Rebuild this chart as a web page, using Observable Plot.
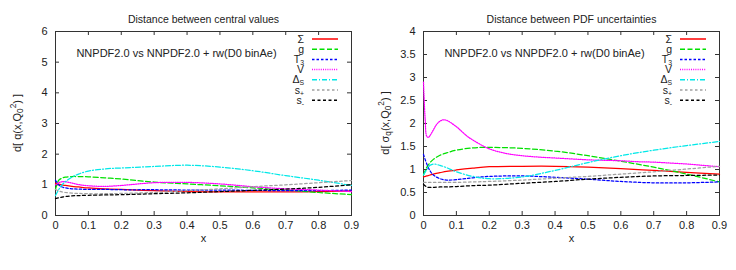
<!DOCTYPE html>
<html>
<head>
<meta charset="utf-8">
<script src="https://cdn.jsdelivr.net/npm/d3@7"></script>
<script src="https://cdn.jsdelivr.net/npm/@observablehq/plot@0.6"></script>
<style>
  html, body { margin: 0; padding: 0; background: #fff; }
  #row { display: flex; width: 736px; height: 270px; }
  #row > svg { display: block; }
</style>
</head>
<body>
<div id="row"></div>
<script>
// ---------------- data ----------------
const xGrid = [0, 0.01, 0.02, 0.03, 0.05, 0.07, 0.1, 0.15, 0.2, 0.3, 0.4, 0.5, 0.6, 0.7, 0.8, 0.9];

// Left panel: distance between central values
const centralSigma = [1.05, 1.02, 1.0, 0.98, 0.95, 0.93, 0.9, 0.87, 0.85, 0.81, 0.78, 0.77, 0.77, 0.77, 0.78, 0.8];
const centralG     = [0.85, 1.15, 1.22, 1.25, 1.27, 1.27, 1.26, 1.23, 1.19, 1.09, 1.03, 0.97, 0.9, 0.83, 0.75, 0.68];
const centralT3    = [1.15, 1.0, 0.93, 0.9, 0.87, 0.86, 0.85, 0.85, 0.84, 0.84, 0.83, 0.83, 0.82, 0.81, 0.81, 0.83];
const centralV     = [1.0, 1.07, 1.1, 1.1, 1.06, 1.01, 0.97, 0.95, 0.98, 1.07, 1.08, 1.03, 0.94, 0.87, 0.83, 0.78];
const centralDs    = [0.65, 0.85, 1.0, 1.1, 1.25, 1.35, 1.45, 1.52, 1.55, 1.6, 1.64, 1.58, 1.46, 1.3, 1.15, 0.98];
const centralSp    = [0.85, 0.8, 0.77, 0.75, 0.73, 0.72, 0.71, 0.71, 0.72, 0.75, 0.81, 0.87, 0.94, 1.0, 1.07, 1.14];
const centralSm    = [0.55, 0.58, 0.6, 0.62, 0.64, 0.65, 0.66, 0.67, 0.68, 0.71, 0.74, 0.78, 0.82, 0.86, 0.92, 1.0];

// Right panel: distance between PDF uncertainties
const uncSigma = [0.84, 0.86, 0.88, 0.9, 0.93, 0.96, 0.99, 1.03, 1.06, 1.07, 1.07, 1.05, 1.02, 0.98, 0.94, 0.9];
const uncG     = [0.88, 1.05, 1.15, 1.22, 1.31, 1.36, 1.42, 1.47, 1.48, 1.46, 1.4, 1.3, 1.18, 1.05, 0.9, 0.73];
const uncT3    = [1.33, 1.12, 0.97, 0.88, 0.8, 0.77, 0.78, 0.82, 0.85, 0.86, 0.83, 0.79, 0.74, 0.71, 0.71, 0.73];
const uncDs    = [0.88, 1.0, 1.09, 1.12, 1.09, 1.04, 0.95, 0.85, 0.8, 0.84, 0.98, 1.15, 1.3, 1.42, 1.52, 1.61];
const uncSp    = [0.72, 0.72, 0.72, 0.72, 0.72, 0.72, 0.72, 0.73, 0.74, 0.77, 0.81, 0.85, 0.9, 0.95, 1.01, 1.07];
const uncSm    = [0.68, 0.62, 0.61, 0.61, 0.62, 0.62, 0.63, 0.65, 0.66, 0.7, 0.74, 0.79, 0.83, 0.86, 0.87, 0.88];
const uncVGrid = [0, 0.005, 0.01, 0.015, 0.02, 0.03, 0.04, 0.05, 0.06, 0.07, 0.1, 0.13, 0.15, 0.2, 0.25, 0.3, 0.35, 0.4, 0.45, 0.5, 0.55, 0.6, 0.65, 0.7, 0.75, 0.8, 0.85, 0.9];
const uncV     = [2.9, 2.1, 1.72, 1.7, 1.74, 1.86, 1.98, 2.05, 2.08, 2.07, 1.93, 1.74, 1.64, 1.45, 1.35, 1.3, 1.27, 1.25, 1.23, 1.21, 1.2, 1.19, 1.17, 1.16, 1.14, 1.12, 1.09, 1.06];

const xTicks = [0, 0.1, 0.2, 0.3, 0.4, 0.5, 0.6, 0.7, 0.8, 0.9];
const yTicksCentral = [0, 1, 2, 3, 4, 5, 6];
const yTicksUnc = [0, 0.5, 1, 1.5, 2, 2.5, 3, 3.5, 4];

const titles = ["Distance between central values", "Distance between PDF uncertainties"];
const annotation = "NNPDF2.0 vs NNPDF2.0 + rw(D0 binAe)";
const xLabel = "x";

// legend: label parts [text, kind]
const seriesNames = [
  [["Σ", ""]],
  [["g", ""]],
  [["T", ""], ["3", "sub"]],
  [["V", ""]],
  [["Δ", ""], ["S", "sub"]],
  [["s", ""], ["+", "sub"]],
  [["s", ""], ["-", "sub"]]
];
const seriesColors = ["#ff0000", "#00e000", "#0000ff", "#ff00ff", "#00e8e8", "#a0a0a0", "#000000"];
const seriesDashes = ["none", "5,2.5", "2.5,2", "1,1.2", "5,2,1,2", "2.5,2.5", "3,2.5"];

const yLabels = [
  [["d[ q(x,Q", ""], ["0", "sub"], ["2", "sup"], [") ]", ""]],
  [["d[ σ", ""], ["q", "sub"], ["(x,Q", ""], ["0", "sub"], ["2", "sup"], [") ]", ""]]
];

// ---------------- drawing ----------------
const W = 368, H = 270, mL = 55, mR = 17, mT = 31, mB = 55;
const plotH = H - mT - mB, plotW = W - mL - mR;
const FONT = "'Liberation Sans', Arial, Helvetica, sans-serif";
const frameColor = "#333";

function richText(sel, parts, baseSize, subScale = 0.75, subShift = 0.3) {
  let cur = 0;
  parts.forEach(([t, kind]) => {
    const target = kind === "sub" ? subShift * baseSize : kind === "sup" ? -0.4 * baseSize : 0;
    sel.append("tspan")
      .attr("dy", target - cur)
      .attr("font-size", kind ? baseSize * subScale : baseSize)
      .text(t);
    cur = target;
  });
}

function panel(idx, series, yDomain, yTicks) {
  const marks = [
    Plot.frame({stroke: frameColor}),
    Plot.ruleX(xTicks, {x: d => d, insetTop: plotH - 4, stroke: frameColor}),
    Plot.ruleX(xTicks, {x: d => d, insetBottom: plotH - 4, stroke: frameColor}),
    Plot.ruleY(yTicks, {y: d => d, insetRight: plotW - 4, stroke: frameColor}),
    Plot.ruleY(yTicks, {y: d => d, insetLeft: plotW - 4, stroke: frameColor}),
    Plot.axisX(xTicks, {tickSize: 0, tickPadding: 6, tickFormat: d => d === 0 ? "0" : d.toFixed(1), label: null, fontSize: 11, fill: "#222"}),
    Plot.axisY(yTicks, {tickSize: 0, tickPadding: 8, tickFormat: d => String(d), label: null, fontSize: 11, fill: "#222"}),
    Plot.text([xLabel], {frameAnchor: "bottom", dy: 26, fontSize: 11, fill: "#222"}),
    Plot.text([titles[idx]], {frameAnchor: "top", dy: -16, fontSize: 10.5, fill: "#222"}),
    Plot.text([annotation], {frameAnchor: "top-left", dx: 176 - mL, dy: 18, textAnchor: "middle", fontSize: 11, fill: "#222"})
  ];
  series.forEach((s, i) => {
    const data = s.xs.map((x, k) => ({x, y: s.ys[k]}));
    marks.push(Plot.line(data, {
      x: "x", y: "y", stroke: seriesColors[i], strokeWidth: 1.25,
      strokeDasharray: seriesDashes[i] === "none" ? null : seriesDashes[i],
      curve: "catmull-rom"
    }));
  });
  const svg = Plot.plot({
    width: W, height: H,
    marginLeft: mL, marginRight: mR, marginTop: mT, marginBottom: mB,
    style: {fontFamily: FONT, background: "#fff", color: "#222"},
    x: {domain: [0, 0.9]},
    y: {domain: yDomain},
    marks
  });
  const s = d3.select(svg);
  // y label
  const yl = s.append("text")
    .attr("transform", `translate(18,${mT + plotH / 2}) rotate(-90)`)
    .attr("text-anchor", "middle").attr("dominant-baseline", "middle")
    .attr("fill", "#222").attr("font-family", FONT);
  richText(yl, yLabels[idx], 11);
  // legend
  seriesNames.forEach((parts, i) => {
    const y = 39 + i * 10.2;
    const t = s.append("text")
      .attr("x", 304).attr("y", y + 3.5)
      .attr("text-anchor", "end").attr("fill", "#222").attr("font-family", FONT);
    richText(t, parts, 10.5, 0.65, 0.2);
    s.append("line")
      .attr("x1", 312).attr("x2", 338).attr("y1", y).attr("y2", y)
      .attr("stroke", seriesColors[i]).attr("stroke-width", 1.5)
      .attr("stroke-dasharray", seriesDashes[i] === "none" ? null : seriesDashes[i]);
  });
  return svg;
}

const row = document.getElementById("row");
row.appendChild(panel(0, [
  {xs: xGrid, ys: centralSigma}, {xs: xGrid, ys: centralG}, {xs: xGrid, ys: centralT3},
  {xs: xGrid, ys: centralV}, {xs: xGrid, ys: centralDs}, {xs: xGrid, ys: centralSp}, {xs: xGrid, ys: centralSm}
], [0, 6], yTicksCentral));
row.appendChild(panel(1, [
  {xs: xGrid, ys: uncSigma}, {xs: xGrid, ys: uncG}, {xs: xGrid, ys: uncT3},
  {xs: uncVGrid, ys: uncV}, {xs: xGrid, ys: uncDs}, {xs: xGrid, ys: uncSp}, {xs: xGrid, ys: uncSm}
], [0, 4], yTicksUnc));
</script>
</body>
</html>
